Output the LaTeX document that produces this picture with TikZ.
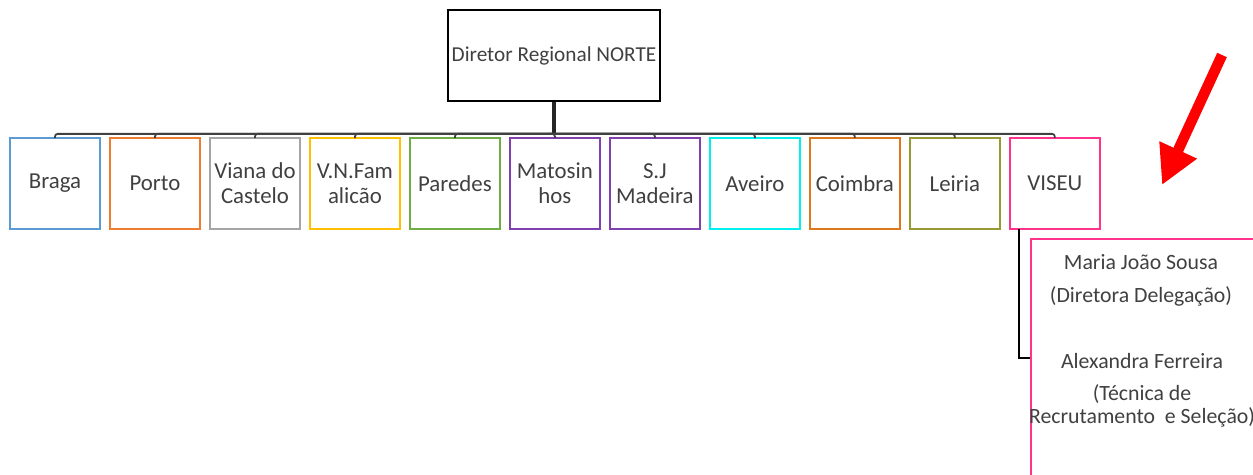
\documentclass[tikz,border=0pt]{standalone}
\usepackage{fontspec}
\setmainfont{Carlito}
\usetikzlibrary{arrows.meta, positioning, calc}
\definecolor{TextGray}{RGB}{64,64,64}
\definecolor{BragaLine}{RGB}{91,155,213}
\definecolor{PortoLine}{RGB}{237,125,49}
\definecolor{VianaLine}{RGB}{165,165,165}
\definecolor{FamLine}{RGB}{255,192,0}
\definecolor{ParedesLine}{RGB}{112,173,71}
\definecolor{PurpleLine}{RGB}{128,64,176}
\definecolor{AveiroLine}{RGB}{0,240,240}
\definecolor{CoimbraLine}{RGB}{220,120,30}
\definecolor{LeiriaLine}{RGB}{153,153,51}
\definecolor{ViseuLine}{RGB}{255,51,140}
\definecolor{ArrowRed}{RGB}{255,0,0}

\begin{document}
\begin{tikzpicture}[
    x=0.02cm, y=-0.02cm,
    boss/.style={
        rectangle, draw=black, line width=1pt, minimum width=4.24cm,
        minimum height=1.82cm, inner sep=1pt, align=center,
        text=TextGray, font=\fontsize{12.1}{13}\selectfont
    },
    city/.style={
        rectangle, draw=#1, line width=0.9pt, minimum width=1.8cm,
        minimum height=1.82cm, inner sep=1pt, outer sep=0pt,
        align=center, text=TextGray, font=\fontsize{13}{14.2}\selectfont
    },
    city/.default={black},
    person/.style={align=center, text=TextGray,
        font=\fontsize{12.4}{13}\selectfont},
    stem/.style={line width=1.8pt, black!85},
    busline/.style={line width=1pt, black!75, rounded corners=1.5pt},
    link/.style={line width=0.8pt, black},
    redarrow/.style={line width=6pt, ArrowRed,
        -{Triangle[length=22pt, width=22pt]}},
    node distance=0.2cm
]
\clip (0,0) rectangle (1253,474);

% ===================================================================
% DIRECTOR
% ===================================================================
\node[boss] (dir) at (554,55.5) {Diretor Regional NORTE};

% ===================================================================
% DELEGATIONS
% ===================================================================
\node[city=BragaLine] (braga) at (55,183.5) {Braga};
\node[city=PortoLine, right=of braga] (porto) {Porto};
\node[city=VianaLine, right=of porto] (viana) {Viana do\\Castelo};
\node[city=FamLine, right=of viana] (fam) {V.N.Fam\\alicão};
\node[city=ParedesLine, right=of fam] (paredes) {Paredes};
\node[city=PurpleLine, right=of paredes] (matosinhos) {Matosin\\hos};
\node[city=PurpleLine, right=of matosinhos] (sjmadeira) {S.J\\Madeira};
\node[city=AveiroLine, right=of sjmadeira] (aveiro) {Aveiro};
\node[city=CoimbraLine, right=of aveiro] (coimbra) {Coimbra};
\node[city=LeiriaLine, right=of coimbra] (leiria) {Leiria};
\node[city=ViseuLine, right=of leiria] (viseu) {VISEU};

% ===================================================================
% ORG LINES
% ===================================================================
\coordinate (bus) at ($(dir.south)+(0,32)$);
\draw[stem] (dir.south) -- (bus);
\draw[busline] (bus) -| (braga.north);
\draw[busline] (bus) -| (porto.north);
\draw[busline] (bus) -| (viana.north);
\draw[busline] (bus) -| (fam.north);
\draw[busline] (bus) -| (paredes.north);
\draw[busline] (bus) -| (matosinhos.north);
\draw[busline] (bus) -| (sjmadeira.north);
\draw[busline] (bus) -| (aveiro.north);
\draw[busline] (bus) -| (coimbra.north);
\draw[busline] (bus) -| (leiria.north);
\draw[busline] (bus) -| (viseu.north);

% ===================================================================
% VISEU STAFF
% ===================================================================
\node[draw=ViseuLine, line width=1pt, minimum width=4.6cm,
      minimum height=4.76cm] (staff) at (1146,358) {};
\draw[link] ($(viseu.south)+(-36,0)$) |- (staff.west);

\node[person] (maria) at (1141,280)
    {Maria João Sousa\\[5.7pt](Diretora Delegação)};
\node[person] (alexandra) at (1142,390)
    {Alexandra Ferreira\\[5.1pt](Técnica de\\Recrutamento~ e Seleção)};

% ===================================================================
% POINTER
% ===================================================================
\coordinate (arrtail) at (1222,55);
\coordinate (arrhead) at (1162,185);
\draw[redarrow] (arrtail) -- (arrhead);

\end{tikzpicture}
\end{document}
